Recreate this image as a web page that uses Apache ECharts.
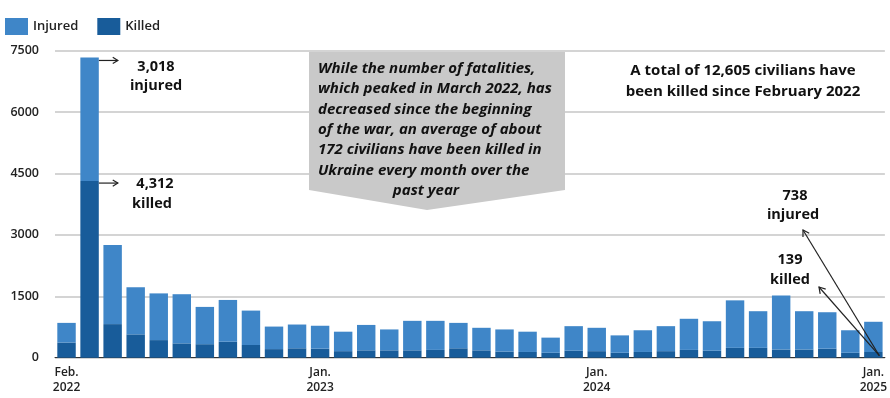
<!DOCTYPE html>
<html>
<head>
<meta charset="utf-8">
<script src="https://cdn.jsdelivr.net/npm/echarts@6/dist/echarts.min.js"></script>
<style>
html,body{margin:0;padding:0;background:#fff;}
#chart{width:890px;height:398px;}
</style>
</head>
<body>
<div id="chart"></div>
<script>
const months = [
  'Feb 2022','Mar 2022','Apr 2022','May 2022','Jun 2022','Jul 2022','Aug 2022','Sep 2022','Oct 2022','Nov 2022','Dec 2022',
  'Jan 2023','Feb 2023','Mar 2023','Apr 2023','May 2023','Jun 2023','Jul 2023','Aug 2023','Sep 2023','Oct 2023','Nov 2023','Dec 2023',
  'Jan 2024','Feb 2024','Mar 2024','Apr 2024','May 2024','Jun 2024','Jul 2024','Aug 2024','Sep 2024','Oct 2024','Nov 2024','Dec 2024',
  'Jan 2025'
];
const killed = [
  370, 4312, 820, 570, 430, 350, 330, 390, 310, 210, 230,
  220, 160, 180, 180, 180, 190, 230, 180, 150, 140, 120, 170,
  160, 120, 140, 160, 190, 170, 240, 240, 200, 200, 220, 120,
  139
];
const injured = [
  480, 3018, 1930, 1150, 1140, 1200, 910, 1020, 840, 550, 580,
  560, 475, 620, 510, 720, 710, 620, 550, 540, 495, 370, 600,
  570, 425, 530, 610, 760, 720, 1160, 895, 1320, 935, 890, 550,
  738
];
const xTickLabels = {0:'Feb.\n2022', 11:'Jan.\n2023', 23:'Jan.\n2024', 35:'Jan.\n2025'};
const yTicks = [0, 1500, 3000, 4500, 6000, 7500];

const C_INJ = '#3f86c8';
const C_KIL = '#185c9a';
const TXT = '#222';
const FONT = '"Open Sans", Lato, sans-serif';

const chart = echarts.init(document.getElementById('chart'), null, {renderer:'canvas'});
const option = {
  animation: false,
  textStyle: {fontFamily: FONT},
  legend: {
    left: 0, top: 13, itemWidth: 23, itemHeight: 17, itemGap: 19,
    icon: 'rect',
    textStyle: {fontSize: 13, color: TXT, fontFamily: FONT, fontWeight: 600},
    data: ['Injured', 'Killed']
  },
  grid: {left: 55, top: 50.5, width: 836, bottom: 40.3, containLabel: false},
  xAxis: {
    type: 'category',
    data: months,
    axisTick: {show: false},
    axisLine: {show: true, lineStyle: {color: '#333', width: 1}},
    axisLabel: {
      interval: 0,
      formatter: (v, i) => xTickLabels[i] || '',
      fontSize: 12, lineHeight: 15, color: TXT, fontWeight: 600, margin: 7,
      fontFamily: FONT
    }
  },
  yAxis: {
    type: 'value', min: yTicks[0], max: yTicks[yTicks.length-1], interval: 1500,
    axisLine: {show: false}, axisTick: {show: false},
    splitLine: {lineStyle: {color: '#c6c6c6', width: 1.5}},
    axisLabel: {fontSize: 12.5, color: TXT, fontWeight: 600, margin: 16, fontFamily: FONT,
      formatter: v => String(v)}
  },
  series: [
    {name: 'Killed', type: 'bar', stack: 'c', data: killed, itemStyle: {color: C_KIL}, barCategoryGap: '20%'},
    {name: 'Injured', type: 'bar', stack: 'c', data: injured, itemStyle: {color: C_INJ}, barCategoryGap: '20%'}
  ]
};
chart.setOption(option);

// ---- annotations ----
function px(i, v){ return chart.convertToPixel({xAxisIndex:0, yAxisIndex:0}, [i, v]); }
const band = 836 / months.length;
const halfBar = band * 0.8 / 2;
const lineStyle = {stroke: '#222', lineWidth: 1.2, fill: null};
function openHead(x, y, ang, size){
  const a1 = ang + Math.PI - 0.55, a2 = ang + Math.PI + 0.55;
  return {type:'polyline', shape:{points:[[x+size*Math.cos(a1), y+size*Math.sin(a1)],[x,y],[x+size*Math.cos(a2), y+size*Math.sin(a2)]]}, style: lineStyle, z: 50};
}
function arrow(x1,y1,x2,y2,size){
  const ang = Math.atan2(y2-y1, x2-x1);
  return [
    {type:'line', shape:{x1, y1, x2, y2}, style: lineStyle, z: 50},
    openHead(x2, y2, ang, size)
  ];
}
function txt(x, y, text, opts){
  return {type:'text', x, y, z: 60, style: Object.assign({
    text, fill: '#111', font: 'bold 14.5px ' + FONT, align: 'center', verticalAlign: 'middle'
  }, opts || {})};
}

const els = [];
// March 2022 peak
const mTop = px(1, killed[1] + injured[1]);
const mKil = px(1, killed[1]);
const ax = mTop[0] + halfBar;
els.push(...arrow(ax, mTop[1] + 3, ax + 19, mTop[1] + 3, 6));
els.push(...arrow(ax, mKil[1] + 2, ax + 19, mKil[1] + 2, 6));
els.push(txt(156, mTop[1] + 9, injured[1].toLocaleString('en-US')));
els.push(txt(156, mTop[1] + 28, 'injured'));
els.push(txt(155, mKil[1] + 3, killed[1].toLocaleString('en-US')));
els.push(txt(152, mKil[1] + 23, 'killed'));

// callout box
els.push({type:'polygon', z: 40, shape:{points:[[309,52],[565,52],[565,190],[427,210],[309,190]]}, style:{fill:'#c9c9c9'}});
const calloutLines = [
  'While the number of fatalities,',
  'which peaked in March 2022, has',
  'decreased since the beginning',
  'of the war, an average of about',
  '172 civilians have been killed in',
  'Ukraine every month over the',
  'past year'
];
calloutLines.forEach((l, i) => {
  const lastLine = i === calloutLines.length - 1;
  els.push(txt(lastLine ? 426 : 318, 68.5 + i * 20.4, l,
    {font: 'italic bold 15px ' + FONT, fill: '#111', align: lastLine ? 'center' : 'left'}));
});

// total note
els.push(txt(743, 71, 'A total of 12,605 civilians have', {font: 'bold 15px ' + FONT}));
els.push(txt(743, 92, 'been killed since February 2022', {font: 'bold 15px ' + FONT}));

// Jan 2025 labels
const last = months.length - 1;
const jBase = px(last, 0);
els.push(txt(795, 196, String(injured[last])));
els.push(txt(793, 215, 'injured'));
els.push(txt(790, 260, String(killed[last])));
els.push(txt(790, 280, 'killed'));
els.push(...arrow(jBase[0] + 6, jBase[1] - 2, 803, 230, 7));
els.push(...arrow(jBase[0] + 6, jBase[1] - 2, 819, 287, 7));

chart.setOption({graphic: {elements: els}});
</script>
</body>
</html>
